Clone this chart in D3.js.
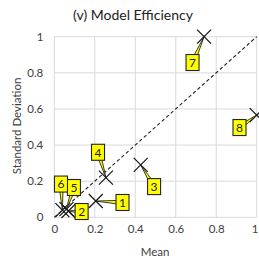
<!DOCTYPE html>
<html><head><meta charset="utf-8">
<script src="https://cdn.jsdelivr.net/npm/d3@7"></script>
<style>body{margin:0;background:#fff}svg{display:block}</style>
</head><body>
<script>
const ids = ["1","2","3","4","5","6","7","8"];
const meanVals = [0.205, 0.07, 0.427, 0.255, 0.06, 0.04, 0.74, 1.0];
const sdVals   = [0.09, 0.035, 0.29, 0.22, 0.045, 0.04, 1.0, 0.566];
const labelMean = [0.337, 0.135, 0.493, 0.216, 0.097, 0.033, 0.683, 0.915];
const labelSD   = [0.082, 0.032, 0.17, 0.36, 0.165, 0.184, 0.857, 0.497];
const xTicks = [0, 0.2, 0.4, 0.6, 0.8, 1];
const yTicks = [0, 0.2, 0.4, 0.6, 0.8, 1];
const titleText = "(v) Model Efficiency";
const xTitle = "Mean", yTitle = "Standard Deviation";

const W = 259, H = 263;
const font = "Lato, 'Open Sans', sans-serif";
const svg = d3.select("body").append("svg").attr("width", W).attr("height", H);
const x = d3.scaleLinear().domain([0,1]).range([54.3, 256.7]);
const y = d3.scaleLinear().domain([0,1]).range([217.3, 36.7]);

// grid
svg.append("g").selectAll("line").data(xTicks).join("line")
  .attr("x1", d=>x(d)).attr("x2", d=>x(d)).attr("y1", y(0)).attr("y2", y(1))
  .attr("stroke", "#d9d9d9").attr("stroke-width", 1);
svg.append("g").selectAll("line").data(yTicks).join("line")
  .attr("x1", x(0)).attr("x2", x(1)).attr("y1", d=>y(d)).attr("y2", d=>y(d))
  .attr("stroke", "#d9d9d9").attr("stroke-width", 1);

// axes labels
const xAxis = d3.axisBottom(x).tickValues(xTicks).tickSize(0).tickPadding(8).tickFormat(d3.format("~g"));
const gx = svg.append("g").attr("transform", `translate(0,${y(0)})`).call(xAxis);
gx.select(".domain").remove();
gx.selectAll("text").attr("font-family", font).attr("font-size", 11.5).attr("fill", "#404040")
  .attr("dx", d => d === 1 ? -2 : 0);
const yAxis = d3.axisLeft(y).tickValues(yTicks).tickSize(0).tickPadding(11).tickFormat(d3.format("~g"));
const gy = svg.append("g").attr("transform", `translate(${x(0)},0)`).call(yAxis);
gy.select(".domain").remove();
gy.selectAll("text").attr("font-family", font).attr("font-size", 11.5).attr("fill", "#404040");

// diagonal
svg.append("line").attr("x1", x(0)).attr("y1", y(0)).attr("x2", x(1)).attr("y2", y(1))
  .attr("stroke", "#222").attr("stroke-width", 1.1).attr("stroke-dasharray", "3.5,2.5");

const pts = ids.map((id,i)=>({id, m:meanVals[i], s:sdVals[i], lm:labelMean[i], ls:labelSD[i]}));

// markers
const ms = 7;
const mk = svg.append("g").selectAll("g").data(pts).join("g")
  .attr("transform", d=>`translate(${x(d.m)},${y(d.s)})`);
mk.append("line").attr("x1",-ms).attr("y1",-ms).attr("x2",ms).attr("y2",ms).attr("stroke","#111").attr("stroke-width",1.2);
mk.append("line").attr("x1",-ms).attr("y1",ms).attr("x2",ms).attr("y2",-ms).attr("stroke","#111").attr("stroke-width",1.2);

// callouts
const lab = svg.append("g").selectAll("g").data(pts).join("g");
lab.append("path").attr("d", d=>{
  const cx=x(d.lm), cy=y(d.ls), px=x(d.m), py=y(d.s);
  const dx=px-cx, dy=py-cy, L=Math.hypot(dx,dy)||1;
  const nx=-dy/L*2.2, ny=dx/L*2.2;
  return `M${cx+nx},${cy+ny}L${px},${py}L${cx-nx},${cy-ny}Z`;
}).attr("fill","#ffff00").attr("stroke","#222").attr("stroke-width",0.9);
lab.append("rect").attr("x", d=>x(d.lm)-6.5).attr("y", d=>y(d.ls)-8)
  .attr("width", 13).attr("height", 16).attr("fill","#ffff00").attr("stroke","#222").attr("stroke-width",1.1);
lab.append("text").attr("x", d=>x(d.lm)).attr("y", d=>y(d.ls)+4.3)
  .attr("text-anchor","middle").attr("font-family",font).attr("font-size",12).attr("fill","#222")
  .text(d=>d.id);

// titles
svg.append("text").attr("x", 133).attr("y", 20).attr("text-anchor","middle")
  .attr("font-family",font).attr("font-size",14).attr("fill","#222").text(titleText);
svg.append("text").attr("x", 155).attr("y", 256).attr("text-anchor","middle")
  .attr("font-family",font).attr("font-size",11.5).attr("fill","#404040").text(xTitle);
svg.append("text").attr("transform","translate(21,126) rotate(-90)").attr("text-anchor","middle")
  .attr("font-family",font).attr("font-size",11.5).attr("fill","#404040").text(yTitle);
</script>
</body></html>
